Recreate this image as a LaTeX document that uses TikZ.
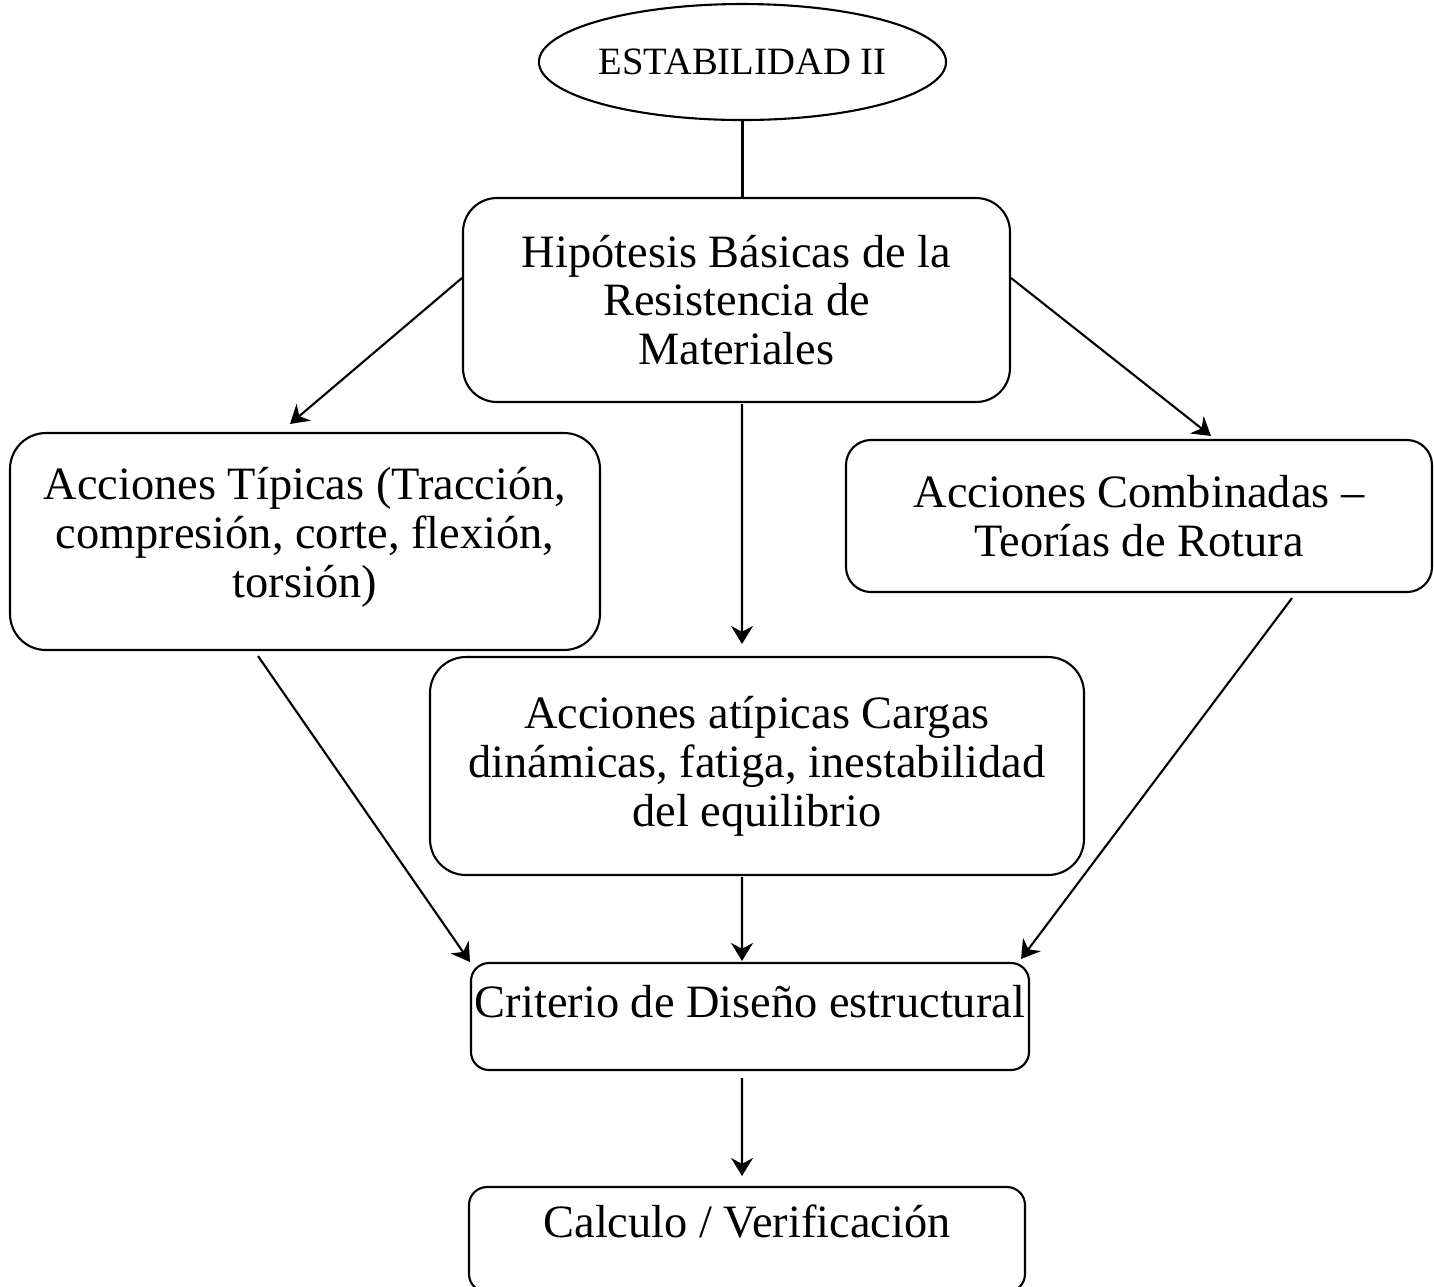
\documentclass[tikz,border=0pt]{standalone}
\usepackage{fontspec}
\setmainfont{Liberation Serif}
\usetikzlibrary{arrows.meta,positioning,shapes.geometric}

\begin{document}
\begin{tikzpicture}[auto,
		box/.style={draw, line width=0.6pt, align=center, inner sep=0pt, font=\fontsize{13.2}{13.9}\selectfont},
		arr/.style={-{Stealth[length=1.8mm,width=2.2mm]}, line width=0.6pt}]
			\useasboundingbox (0,0) rectangle (14.34,-12.86);

			\node[draw, ellipse, line width=0.6pt, minimum width=3.69cm, minimum height=1.16cm, inner sep=0pt, font=\fontsize{11}{13}\selectfont] (estab) at (7.425,-0.62) {ESTABILIDAD II};
			\node[box, rounded corners=3.4mm, minimum width=5.47cm, minimum height=2.04cm] (hipot) at (7.365,-3.00) {Hipótesis Básicas de la\\Resistencia de\\Materiales};
			\node[box, rounded corners=3.6mm, minimum width=5.90cm, minimum height=2.17cm, text depth=1.8mm] (tipic) at (3.05,-5.415) {Acciones Típicas (Tracción,\\compresión, corte, flexión,\\torsión)};
			\node[box, rounded corners=2.5mm, minimum width=5.86cm, minimum height=1.52cm] (combi) at (11.39,-5.16) {Acciones Combinadas --\\Teorías de Rotura};
			\node[box, rounded corners=3.6mm, minimum width=6.54cm, minimum height=2.18cm] (atipi) at (7.57,-7.66) {Acciones atípicas Cargas\\dinámicas, fatiga, inestabilidad\\del equilibrio};
			\node[box, rounded corners=1.8mm, minimum width=5.58cm, minimum height=1.07cm, text depth=3mm] (crite) at (7.50,-10.165) {Criterio de Diseño estructural};
			\node[box, rounded corners=1.8mm, minimum width=5.56cm, minimum height=1.05cm, text depth=3.6mm] (calcu) at (7.47,-12.395) {Calculo / Verificación};

			\draw [line width=0.6pt] (estab.south) to (estab.south |- hipot.north);
			\draw [arr] ([yshift=2.2mm]hipot.west) to ([xshift=-1.5mm,yshift=0.8mm]tipic.north);
			\draw [arr] ([yshift=2.2mm]hipot.east) to ([xshift=7.2mm,yshift=0.3mm]combi.north);
			\draw [arr] ([xshift=0.55mm,yshift=-0.1mm]hipot.south) to ([xshift=-1.5mm,yshift=1.2mm]atipi.north);
			\draw [arr] ([xshift=-4.7mm,yshift=-0.5mm]tipic.south) to (crite.north west);
			\draw [arr] ([xshift=-1.5mm,yshift=-0.1mm]atipi.south) to ([xshift=-0.8mm,yshift=0.1mm]crite.north);
			\draw [arr] ([xshift=15.3mm,yshift=-0.5mm]combi.south) to ([xshift=-0.9mm,yshift=0.3mm]crite.north east);
			\draw [arr] ([xshift=-0.8mm,yshift=-0.7mm]crite.south) to ([xshift=-0.5mm,yshift=1mm]calcu.north);
	\end{tikzpicture}
\end{document}
